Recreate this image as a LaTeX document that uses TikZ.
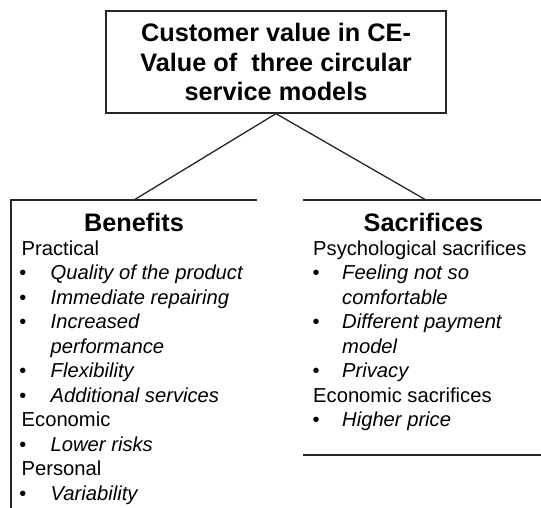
\documentclass[tikz,border=0pt]{standalone}
\usepackage{fontspec}
\setmainfont{Liberation Sans}
\begin{document}
\begin{tikzpicture}[x=1pt,y=-1pt,
  frame/.style={line width=1.3pt,draw=black!85},
  titlebox/.style={draw=black!85,line width=1.3pt,minimum width=340pt,minimum height=102pt,inner sep=0pt,align=center,font=\fontsize{25.3}{29.5}\selectfont\bfseries},
  head/.style={inner sep=0pt,anchor=base,font=\fontsize{25.3}{30}\selectfont\bfseries},
  txt/.style={inner sep=0pt,anchor=base west,font=\fontsize{20.2}{24}\selectfont},
  itm/.style={inner sep=0pt,anchor=base west,font=\fontsize{20.2}{24}\selectfont\itshape},
  bul/.style={inner sep=0pt,anchor=base,font=\fontsize{20}{24}\selectfont}]
\useasboundingbox (0,0) rectangle (541,508);
% title
\node[titlebox] (title) at (276,62) {Customer value in CE-\\Value of\ \ three circular\\service models};
\coordinate (bl) at (134,200);
\coordinate (br) at (426,200);
\draw[frame] (title.south) -- (bl);
\draw[frame] (title.south) -- (br);
% left frame
\coordinate (l1) at (257,200);
\coordinate (l2) at (11,200);
\coordinate (l3) at (11,508);
\draw[frame] (l1) -- (l2) -- (l3);
% right frame
\coordinate (r1) at (303,200);
\coordinate (r2) at (541,200);
\coordinate (r3) at (303,455);
\coordinate (r4) at (541,455);
\draw[frame] (r1) -- (r2);
\draw[frame] (r3) -- (r4);
% Benefits
\node[head] (ben) at (134,231) {Benefits};
\node[txt] (b0) at (21.5,255) {Practical};
\node[bul] (bb1) at (23,279.5) {•};
\node[itm] (b1) at (50.5,279.5) {Quality of the product};
\node[bul] (bb2) at (23,304) {•};
\node[itm] (b2) at (50.5,304) {Immediate repairing};
\node[bul] (bb3) at (23,328.5) {•};
\node[itm] (b3) at (50.5,328.5) {Increased};
\node[itm] (b4) at (50.5,353) {performance};
\node[bul] (bb5) at (23,377.5) {•};
\node[itm] (b5) at (50.5,377.5) {Flexibility};
\node[bul] (bb6) at (23,402) {•};
\node[itm] (b6) at (50.5,402) {Additional services};
\node[txt] (b7) at (21.5,426.5) {Economic};
\node[bul] (bb8) at (23,451) {•};
\node[itm] (b8) at (50.5,451) {Lower risks};
\node[txt] (b9) at (21.5,475.5) {Personal};
\node[bul] (bb10) at (23,500) {•};
\node[itm] (b10) at (50.5,500) {Variability};
% Sacrifices
\node[head] (sac) at (423.5,231) {Sacrifices};
\node[txt] (s0) at (313,255) {Psychological sacrifices};
\node[bul] (sb1) at (316,279.5) {•};
\node[itm] (s1) at (342,279.5) {Feeling not so};
\node[itm] (s2) at (342,304) {comfortable};
\node[bul] (sb3) at (316,328.5) {•};
\node[itm] (s3) at (342,328.5) {Different payment};
\node[itm] (s4) at (342,353) {model};
\node[bul] (sb5) at (316,377.5) {•};
\node[itm] (s5) at (342,377.5) {Privacy};
\node[txt] (s6) at (313,402) {Economic sacrifices};
\node[bul] (sb7) at (316,426.5) {•};
\node[itm] (s7) at (342,426.5) {Higher price};
\end{tikzpicture}
\end{document}
